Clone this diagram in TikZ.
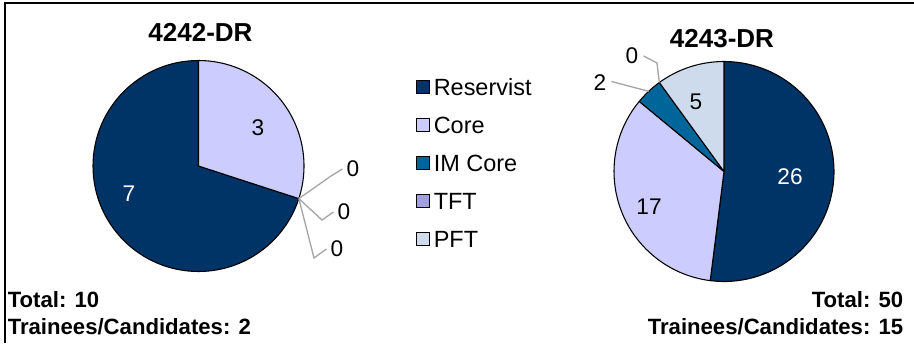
\documentclass[tikz,border=0pt]{standalone}
\usepackage{fontspec}
\setmainfont{Liberation Sans}
\usetikzlibrary{calc}
\begin{document}
\begin{tikzpicture}[x=0.75pt,y=0.75pt,
  res/.style={fill={rgb,255:red,0;green,51;blue,102}},
  cor/.style={fill={rgb,255:red,204;green,204;blue,255}},
  imc/.style={fill={rgb,255:red,0;green,102;blue,153}},
  tft/.style={fill={rgb,255:red,160;green,160;blue,220}},
  pft/.style={fill={rgb,255:red,206;green,219;blue,236}},
  slice/.style={draw=black,line width=0.8pt,line join=round},
  lbl/.style={font=\fontsize{17}{20}\selectfont,inner sep=0pt},
  wlbl/.style={lbl,text=white},
  ttl/.style={font=\bfseries\fontsize{19.5}{23}\selectfont,inner sep=0pt},
  foot/.style={font=\bfseries\fontsize{16.6}{19}\selectfont,inner sep=0pt},
  lead/.style={draw={rgb,255:red,166;green,166;blue,166},line width=1pt},
  legsq/.style={draw=black,line width=0.8pt,minimum size=9.5pt,inner sep=0pt},
  legtx/.style={font=\fontsize{17.6}{20}\selectfont,inner sep=0pt,anchor=west}
]
\useasboundingbox (0,0) rectangle (914,343);
\fill[white] (0,0) rectangle (914,343);
% frame
\draw[line width=1.6pt] (5,0) -- (5,340) -- (914,340);

% ---- left pie 4242-DR ----
\coordinate (lc) at (198.5,177);
\def\rl{105.5}
\filldraw[res,slice] (lc) -- ++(90:\rl) arc[start angle=90,end angle=342,radius=\rl] -- cycle;
\filldraw[cor,slice] (lc) -- ++(-18:\rl) arc[start angle=-18,end angle=90,radius=\rl] -- cycle;
\coordinate (lz) at ($(lc)+(-18:\rl)$);
\node[ttl] (t1) at (200.5,311) {4242-DR};
\node[lbl] (l3) at (258,215) {3};
\node[wlbl] (l7) at (129,149) {7};
\node[lbl] (z1) at (353,174) {0};
\node[lbl] (z2) at (344,131) {0};
\node[lbl] (z3) at (337,94) {0};
\draw[lead] (lz) -- (331,167) -- ($(z1.west)+(-4,0)$);
\draw[lead] (lz) -- (322,123) -- ($(z2.west)+(-4,0)$);
\draw[lead] (lz) -- (314,85) -- ($(z3.west)+(-4,0)$);

% ---- right pie 4243-DR ----
\coordinate (rc) at (724,171.5);
\def\rr{110}
\filldraw[res,slice] (rc) -- ++(-97.2:\rr) arc[start angle=-97.2,end angle=90,radius=\rr] -- cycle;
\filldraw[cor,slice] (rc) -- ++(140.4:\rr) arc[start angle=140.4,end angle=262.8,radius=\rr] -- cycle;
\filldraw[imc,slice] (rc) -- ++(126:\rr) arc[start angle=126,end angle=140.4,radius=\rr] -- cycle;
\filldraw[pft,slice] (rc) -- ++(90:\rr) arc[start angle=90,end angle=126,radius=\rr] -- cycle;
\coordinate (rz) at ($(rc)+(126:\rr)$);
\coordinate (ri) at ($(rc)+(133.2:\rr)$);
\node[ttl] (t2) at (722,304) {4243-DR};
\node[wlbl] (r26) at (790,166) {26};
\node[lbl] (r17) at (649,136) {17};
\node[lbl] (r5) at (696,241) {5};
\node[lbl] (r2) at (600,260.5) {2};
\node[lbl] (r0) at (632,287) {0};
\draw[lead] (ri) -- ($(r2.east)+(5,1)$);
\draw[lead] (rz) -- (657,280) -- ($(r0.east)+(5,0)$);

% ---- legend ----
\node[legsq,res] (s1) at (423,255.7) {};
\node[legsq,cor] (s2) at (423,218) {};
\node[legsq,imc] (s3) at (423,179.7) {};
\node[legsq,tft] (s4) at (423,142) {};
\node[legsq,pft] (s5) at (423,104) {};
\node[legtx] (e1) at (433.5,255.7) {Reservist};
\node[legtx] (e2) at (433.5,218) {Core};
\node[legtx] (e3) at (433.5,179.7) {IM Core};
\node[legtx] (e4) at (433.5,142) {TFT};
\node[legtx] (e5) at (433.5,104) {PFT};

% ---- footers ----
\node[foot,anchor=west] (f1) at (7.5,43) {Total: 10};
\node[foot,anchor=west] (f2) at (7.5,16) {Trainees/Candidates: 2};
\node[foot,anchor=east] (f3) at (903.5,43) {Total: 50};
\node[foot,anchor=east] (f4) at (903.5,16) {Trainees/Candidates: 15};
\end{tikzpicture}
\end{document}
